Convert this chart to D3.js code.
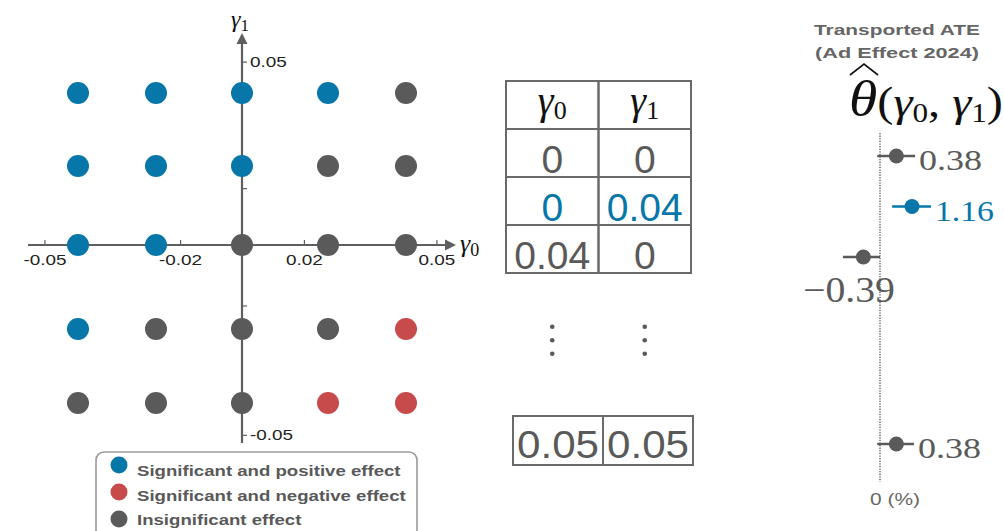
<!DOCTYPE html>
<html>
<head>
<meta charset="utf-8">
<script src="https://cdn.jsdelivr.net/npm/d3@7/dist/d3.min.js"></script>
<style>
  html, body { margin: 0; padding: 0; background: #fff; }
  svg { display: block; }
  .sans { font-family: "Liberation Sans", Arial, Helvetica, sans-serif; }
  .serif { font-family: "Liberation Serif", "Times New Roman", serif; }
</style>
</head>
<body>
<svg id="chart" width="1004" height="531"></svg>
<script>
// ---- Sensitivity grid (γ0 across, γ1 up), positions in grid steps ----
const gridCols = [-2, -1, 0, 1, 2];
const gridRows = [2, 1, 0, -1, -2];
// effect class per row (top to bottom) and column (left to right)
const gridEffect = [
  ["pos", "pos", "pos", "pos", "ins"],
  ["pos", "pos", "pos", "ins", "ins"],
  ["pos", "pos", "ins", "ins", "ins"],
  ["pos", "ins", "ins", "ins", "neg"],
  ["ins", "ins", "ins", "neg", "neg"]
];
// axis tick locations (grid steps) and their labels
const xTickPos = [-2.43, -0.72, 0.72, 2.39];
const xTickLabels = ["-0.05", "-0.02", "0.02", "0.05"];
const yTickPos = [2.43, 0.72, -0.72, -2.43];
const yTickLabels = ["0.05", "", "", "-0.05"];

// ---- Legend ----
const legendKeys = ["pos", "neg", "ins"];
const legendLabels = ["Significant and positive effect", "Significant and negative effect", "Insignificant effect"];

// ---- Parameter table ----
const tableCols = ["γ0", "γ1"];
const tableRowIndex = [1, 2, 3];
const tableGamma0 = ["0", "0", "0.04"];
const tableGamma1 = ["0", "0.04", "0"];
const tableHighlight = [false, true, false];
const lastRowIndex = 7;
const lastGamma0 = "0.05";
const lastGamma1 = "0.05";

// ---- Transported ATE estimates (%) ----
const ateRow = [0, 1, 2, 6];
const ateEst = [0.38, 1.16, -0.39, 0.38];
const ateLow = [-0.02, 0.23, -1.48, -0.02];
const ateHigh = [1.35, 2.52, 0.00, 1.28];
const ateLabels = ["0.38", "1.16", "\u22120.39", "0.38"];
const ateSignificant = [false, true, false, false];

const color = { pos: "#0677a8", neg: "#c84b4c", ins: "#5a5a5a" };
const axisGray = "#5e5e5e";
const textGray = "#595959";

const svg = d3.select("#chart");

// widen glyphs horizontally by factor k
function stretch(sel, k) {
  sel.each(function () {
    const L = this.getComputedTextLength();
    if (L > 0) d3.select(this).attr("textLength", L * k).attr("lengthAdjust", "spacingAndGlyphs");
  });
}

// ================= Scatter grid =================
const gx = d3.scaleLinear().domain([-2, -1, 0, 1, 2]).range([78, 156, 242, 328, 406]);
const gy = d3.scaleLinear().domain([-2, -1, 0, 1, 2]).range([403, 329, 245, 166, 93]);
const ox = gx(0), oy = gy(0);

const grid = svg.append("g");

// x axis ticks + labels
const xAxis = d3.axisBottom(gx)
  .tickValues(xTickPos)
  .tickFormat((d, i) => xTickLabels[i])
  .tickSizeInner(-5).tickSizeOuter(0).tickPadding(9);
const xg = grid.append("g").attr("transform", `translate(0,${oy})`).call(xAxis);
xg.select(".domain").remove();
xg.selectAll(".tick line").attr("stroke", axisGray).attr("stroke-width", 1.2);
xg.selectAll(".tick text").attr("class", "sans").attr("font-size", 15.5).attr("fill", "#222")
  .call(stretch, 1.22);

// y axis ticks + labels
const yAxis = d3.axisRight(gy)
  .tickValues(yTickPos)
  .tickFormat((d, i) => yTickLabels[i])
  .tickSizeInner(5).tickSizeOuter(0).tickPadding(3);
const yg = grid.append("g").attr("transform", `translate(${ox},0)`).call(yAxis);
yg.select(".domain").remove();
yg.selectAll(".tick line").attr("stroke", axisGray).attr("stroke-width", 1.2);
yg.selectAll(".tick text").attr("class", "sans").attr("font-size", 15.5).attr("fill", "#222")
  .call(stretch, 1.22);

// axis lines with arrow heads
grid.append("line").attr("x1", 28).attr("x2", 447).attr("y1", oy).attr("y2", oy)
  .attr("stroke", axisGray).attr("stroke-width", 2.2);
grid.append("path").attr("d", `M456,${oy} L445,${oy - 5.5} L445,${oy + 5.5} Z`).attr("fill", axisGray);
grid.append("line").attr("x1", ox).attr("x2", ox).attr("y1", 443).attr("y2", 42)
  .attr("stroke", axisGray).attr("stroke-width", 2.2);
grid.append("path").attr("d", `M${ox},33 L${ox - 5.5},44 L${ox + 5.5},44 Z`).attr("fill", axisGray);

// axis names
const g0 = grid.append("text").attr("class", "serif").attr("x", 460).attr("y", 252).attr("font-size", 26).attr("fill", "#111");
g0.append("tspan").attr("font-style", "italic").text("γ");
g0.append("tspan").attr("font-size", 18).attr("dy", 4).text("0");
const g1 = grid.append("text").attr("class", "serif").attr("x", 231).attr("y", 27).attr("font-size", 24).attr("fill", "#111");
g1.append("tspan").attr("font-style", "italic").text("γ");
g1.append("tspan").attr("font-size", 17).attr("dy", 4).text("1");

// dots
const cells = [];
gridRows.forEach((r, i) => gridCols.forEach((c, j) => cells.push({ r, c, e: gridEffect[i][j] })));
grid.selectAll("circle.pt").data(cells).join("circle")
  .attr("class", "pt")
  .attr("cx", d => gx(d.c)).attr("cy", d => gy(d.r)).attr("r", 11)
  .attr("fill", d => color[d.e]);

// legend
const leg = svg.append("g");
leg.append("rect").attr("x", 96).attr("y", 452).attr("width", 321).attr("height", 95).attr("rx", 8)
  .attr("fill", "#fff").attr("stroke", "#9a9a9a").attr("stroke-width", 1.6);
const legY = d3.scalePoint().domain(legendKeys).range([465, 519]);
const legTextY = d3.scalePoint().domain(legendKeys).range([476, 525]);
legendKeys.forEach((k, i) => {
  leg.append("circle").attr("cx", 119).attr("cy", legY(k)).attr("r", 8.5).attr("fill", color[k]);
  leg.append("text").attr("class", "sans").attr("x", 137).attr("y", legTextY(k))
    .attr("font-size", 15.5).attr("font-weight", "bold").attr("fill", textGray).text(legendLabels[i])
    .call(stretch, 1.2);
});

// ================= Parameter table =================
const tcol = d3.scaleBand().domain(tableCols).range([506, 691]);
const tcolLast = d3.scaleBand().domain(tableCols).range([513, 693]);
const trow = d3.scaleLinear().domain([0, 1]).range([81, 129]);
const rowH = trow(1) - trow(0);
const tbl = svg.append("g");
const cellStroke = "#6a6a6a";

function drawCell(x, y, w, h) {
  tbl.append("rect").attr("x", x).attr("y", y).attr("width", w).attr("height", h)
    .attr("fill", "none").attr("stroke", cellStroke).attr("stroke-width", 2);
}
// header
tableCols.forEach((c, i) => {
  drawCell(tcol(c), trow(0), tcol.bandwidth(), rowH);
  const t = tbl.append("text").attr("class", "serif").attr("x", tcol(c) + tcol.bandwidth() / 2)
    .attr("y", trow(0) + 33).attr("text-anchor", "middle").attr("font-size", 40).attr("fill", "#111");
  t.append("tspan").attr("font-style", "italic").text("γ");
  t.append("tspan").attr("font-size", 26).attr("dy", 5).text(String(i));
});
// data rows
tableRowIndex.forEach((ri, k) => {
  [tableGamma0[k], tableGamma1[k]].forEach((v, j) => {
    const c = tableCols[j];
    drawCell(tcol(c), trow(ri), tcol.bandwidth(), rowH);
    tbl.append("text").attr("class", "sans").attr("x", tcol(c) + tcol.bandwidth() / 2)
      .attr("y", trow(ri) + rowH - 4).attr("text-anchor", "middle").attr("font-size", 39)
      .attr("fill", tableHighlight[k] ? color.pos : textGray).text(v);
  });
});
// vertical ellipses
tableCols.forEach(c => {
  const cx = tcol(c) + tcol.bandwidth() / 2;
  [-13.5, 0, 13.5].forEach(dy => {
    tbl.append("circle").attr("cx", cx).attr("cy", trow(5.4) + dy).attr("r", 2.3).attr("fill", textGray);
  });
});
// last row
[lastGamma0, lastGamma1].forEach((v, j) => {
  const c = tableCols[j];
  drawCell(tcolLast(c), trow(lastRowIndex) - 1, tcolLast.bandwidth(), rowH + 1);
  tbl.append("text").attr("class", "sans").attr("x", tcolLast(c) + tcolLast.bandwidth() / 2)
    .attr("y", trow(lastRowIndex) + rowH - 7).attr("text-anchor", "middle").attr("font-size", 39)
    .attr("fill", textGray).attr("textLength", 82).attr("lengthAdjust", "spacingAndGlyphs").text(v);
});

// ================= Transported ATE =================
const fx = d3.scalePow().exponent(0.6).domain([0, 1.16]).range([880, 912]);
const fy = d3.scaleLinear().domain([0, 2, 6]).range([156, 257, 444]);
const fp = svg.append("g");

fp.append("text").attr("class", "sans").attr("x", 897).attr("y", 35).attr("text-anchor", "middle")
  .attr("font-size", 15.5).attr("font-weight", "bold").attr("fill", "#666")
  .attr("textLength", 166).attr("lengthAdjust", "spacingAndGlyphs").text("Transported ATE");
fp.append("text").attr("class", "sans").attr("x", 897).attr("y", 58).attr("text-anchor", "middle")
  .attr("font-size", 15.5).attr("font-weight", "bold").attr("fill", "#666")
  .attr("textLength", 164).attr("lengthAdjust", "spacingAndGlyphs").text("(Ad Effect 2024)");

// estimator symbol with wide hat
fp.append("path").attr("d", "M850,75 L864,64 L878,75").attr("fill", "none")
  .attr("stroke", "#111").attr("stroke-width", 1.6);
const th = fp.append("text").attr("class", "serif").attr("x", 849).attr("y", 116)
  .attr("font-size", 42).attr("fill", "#111")
  .attr("textLength", 154).attr("lengthAdjust", "spacingAndGlyphs");
th.append("tspan").attr("font-style", "italic").attr("font-size", 50).text("θ");
th.append("tspan").text("(");
th.append("tspan").attr("font-style", "italic").text("γ");
th.append("tspan").attr("font-size", 27).attr("dy", 6).text("0");
th.append("tspan").attr("dy", -6).text(", ");
th.append("tspan").attr("font-style", "italic").text("γ");
th.append("tspan").attr("font-size", 27).attr("dy", 6).text("1");
th.append("tspan").attr("dy", -6).text(")");

// zero reference line
fp.append("line").attr("x1", fx(0)).attr("x2", fx(0)).attr("y1", 133).attr("y2", 482)
  .attr("stroke", "#333").attr("stroke-width", 1.1).attr("stroke-dasharray", "1.3,1.3");
fp.append("text").attr("class", "sans").attr("x", fx(0) - 10).attr("y", 505)
  .attr("font-size", 16).attr("fill", "#666").attr("textLength", 50)
  .attr("lengthAdjust", "spacingAndGlyphs").text("0 (%)");

ateEst.forEach((v, i) => {
  const c = ateSignificant[i] ? color.pos : color.ins;
  const y = fy(ateRow[i]);
  fp.append("line").attr("x1", fx(ateLow[i])).attr("x2", fx(ateHigh[i])).attr("y1", y).attr("y2", y)
    .attr("stroke", c).attr("stroke-width", 2.5);
  fp.append("circle").attr("cx", fx(v)).attr("cy", y).attr("r", 7.5).attr("fill", c);
  const lab = fp.append("text").attr("class", "serif").attr("fill", c).text(ateLabels[i]);
  if (v >= 0) {
    lab.attr("x", fx(ateHigh[i]) + 4).attr("y", y + 14).attr("font-size", 30)
      .attr("textLength", ateLabels[i] === "1.16" ? 59 : 63).attr("lengthAdjust", "spacingAndGlyphs");
  } else {
    lab.attr("x", fx(0) + 15).attr("y", y + 45).attr("text-anchor", "end").attr("font-size", 36)
      .attr("textLength", 92).attr("lengthAdjust", "spacingAndGlyphs");
  }
});
</script>
</body>
</html>
